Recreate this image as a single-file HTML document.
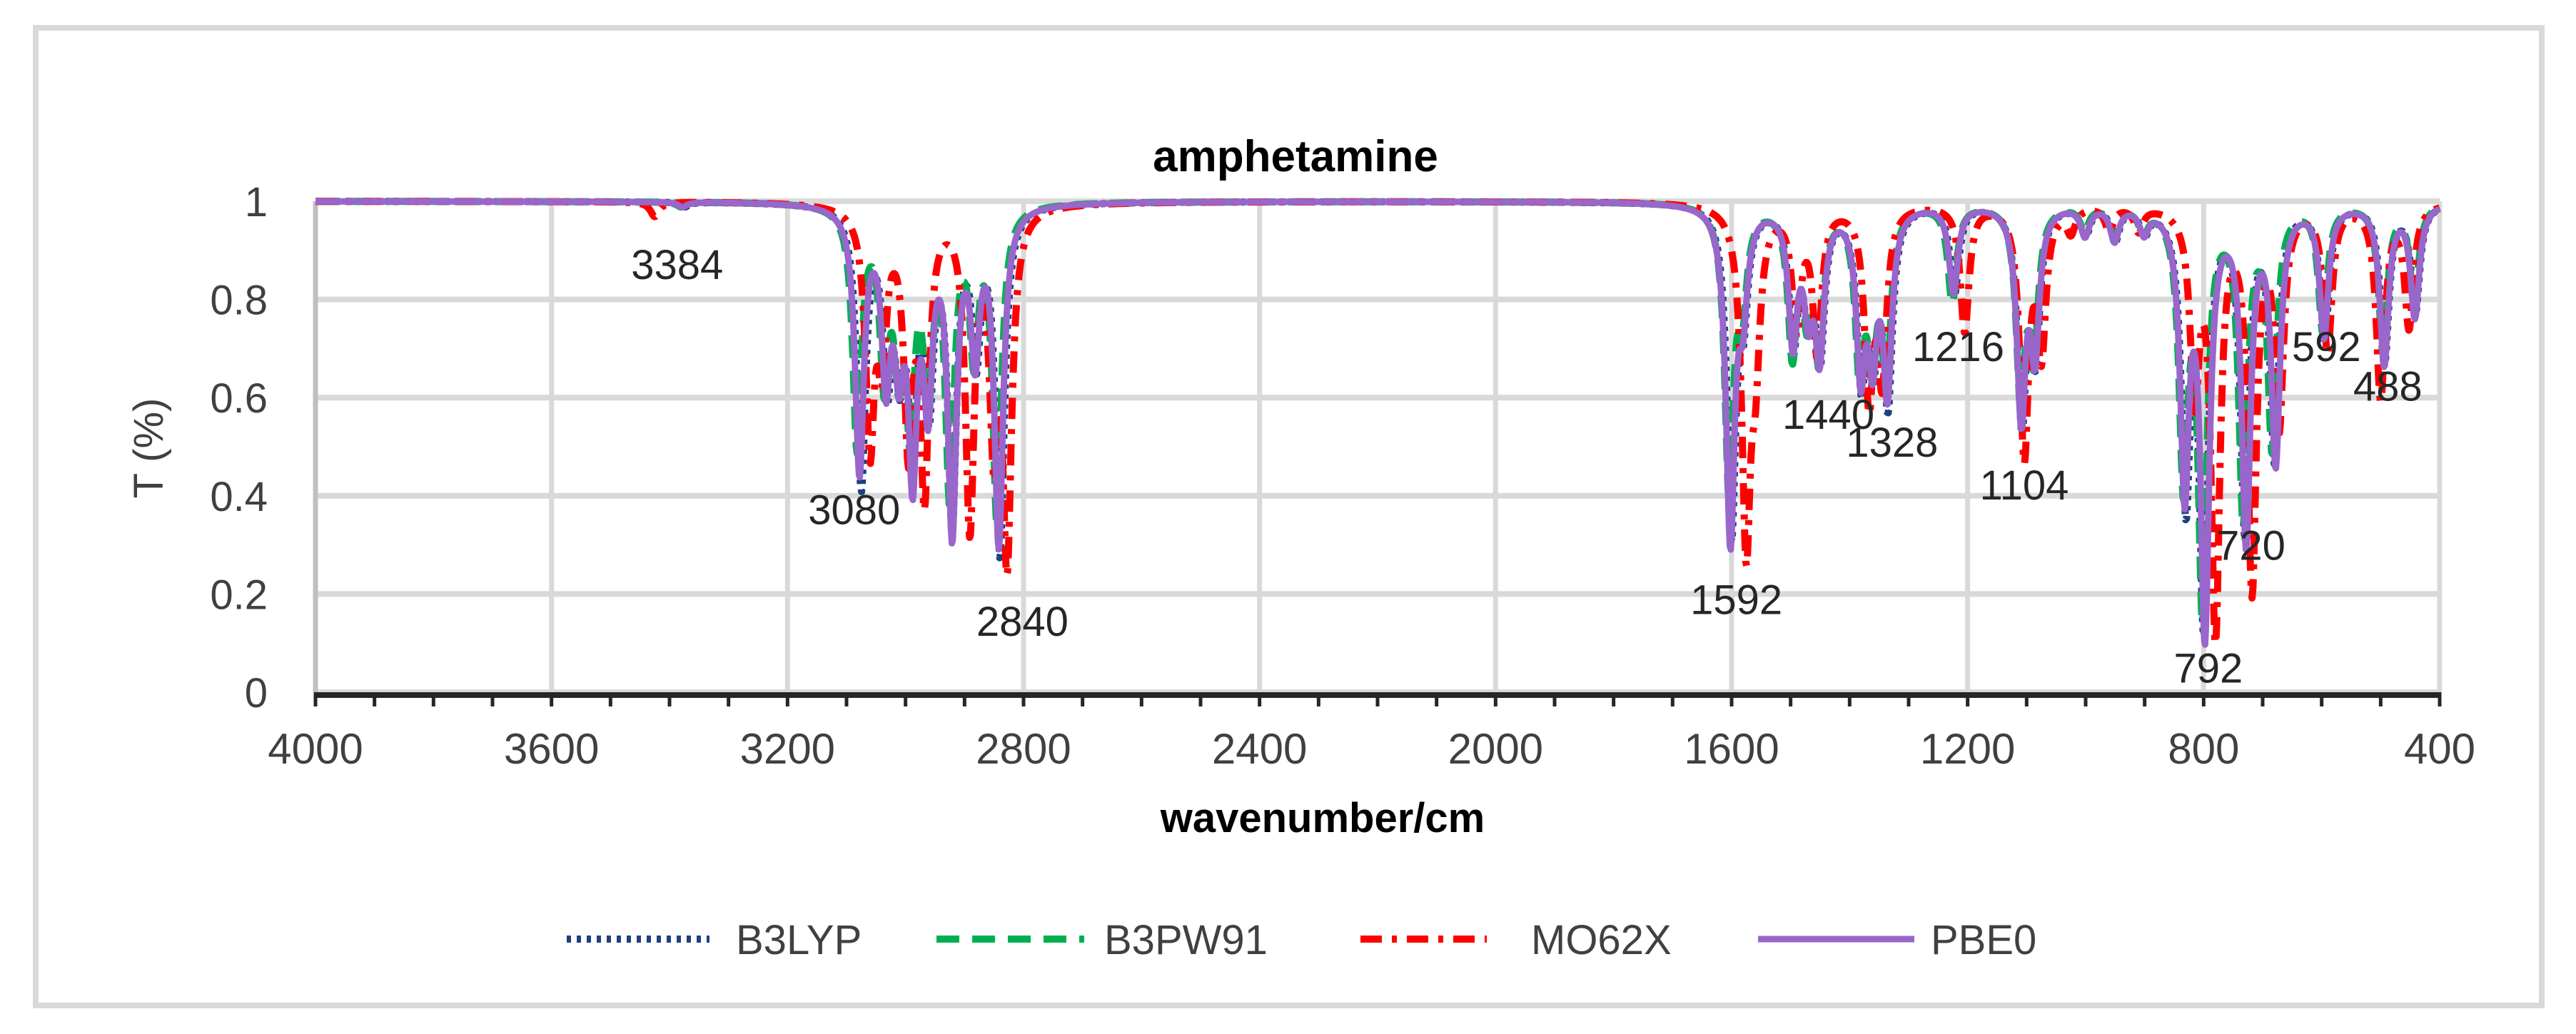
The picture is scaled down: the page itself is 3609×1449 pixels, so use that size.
<!DOCTYPE html>
<html><head><meta charset="utf-8"><style>
html,body{margin:0;padding:0;background:#fff;}
svg{display:block;font-family:"Liberation Sans",sans-serif;}
</style></head><body>
<svg id="chart" width="3609" height="1449" viewBox="0 0 3609 1449" xmlns="http://www.w3.org/2000/svg">
<rect x="50" y="39" width="3511" height="1370" fill="#fff" stroke="#d9d9d9" stroke-width="8"/>
<text x="1815" y="240" font-size="62" font-weight="bold" text-anchor="middle" fill="#000">amphetamine</text>
<g id="grid"></g>
<g id="series"></g>
<g id="axes"></g>
<g id="labels"></g>
<text transform="translate(228,628) rotate(-90)" font-size="58" text-anchor="middle" fill="#404040">T (%)</text>
<text x="1853" y="1166" font-size="58" font-weight="bold" text-anchor="middle" fill="#000">wavenumber/cm</text>
<g id="legend"></g>
</svg>
<script>
const xTicks = [4000,3600,3200,2800,2400,2000,1600,1200,800,400];
const yTicks = [0,0.2,0.4,0.6,0.8,1];
const seriesNames = ["B3LYP","B3PW91","MO62X","PBE0"];
const peaksB3LYP = [[3375,0.01],[3075,0.58],[3031,0.35],[3010,0.3],[2988,0.5],[2960,0.4],[2921,0.66],[2880,0.3],[2840,0.72],[1600,0.68],[1580,0.2],[1495,0.28],[1470,0.2],[1450,0.3],[1380,0.35],[1360,0.3],[1335,0.4],[1222,0.18],[1108,0.45],[1085,0.3],[1000,0.06],[950,0.07],[900,0.05],[830,0.62],[800,0.88],[730,0.68],[680,0.52],[595,0.28],[493,0.32],[441,0.22]];
const peaksB3PW91 = [[3380,0.01],[3082,0.5],[3036,0.35],[3012,0.3],[2992,0.45],[2962,0.4],[2925,0.6],[2884,0.3],[2845,0.65],[1604,0.6],[1582,0.2],[1497,0.3],[1472,0.2],[1452,0.3],[1383,0.33],[1362,0.3],[1338,0.36],[1226,0.2],[1110,0.4],[1088,0.3],[1002,0.05],[952,0.06],[902,0.05],[834,0.58],[802,0.85],[733,0.65],[684,0.5],[598,0.26],[496,0.3],[443,0.2]];
const peaksMO62X = [[3425,0.03],[3060,0.5],[3040,0.3],[2995,0.5],[2968,0.6],[2891,0.67],[2850,0.5],[2828,0.74],[1575,0.72],[1560,0.3],[1490,0.25],[1455,0.3],[1367,0.4],[1345,0.35],[1205,0.26],[1104,0.52],[1075,0.3],[1025,0.05],[960,0.05],[910,0.05],[815,0.4],[780,0.9],[718,0.8],[672,0.45],[590,0.3],[500,0.4],[452,0.25]];
const peaksPBE0 = [[3378,0.01],[3078,0.55],[3033,0.35],[3011,0.3],[2988,0.56],[2962,0.4],[2921,0.68],[2882,0.3],[2842,0.7],[1602,0.7],[1581,0.2],[1496,0.28],[1470,0.2],[1451,0.3],[1381,0.34],[1361,0.3],[1336,0.38],[1224,0.18],[1109,0.44],[1086,0.3],[1001,0.06],[951,0.07],[901,0.05],[832,0.6],[798,0.9],[728,0.7],[678,0.53],[596,0.27],[494,0.33],[442,0.23]];
const labelTexts = ["3384","3080","2840","1592","1440","1328","1216","1104","792","720","592","488"];
const labelX = [3387,3087,2802,1592,1436,1328,1216,1104,792,720,592,488];
const labelY = [0.872,0.373,0.145,0.19,0.567,0.51,0.705,0.423,0.05,0.30,0.705,0.624];

const NS="http://www.w3.org/2000/svg";
const X0=442,X1=3418,Y0=970,Y1=282;
function sx(w){return X0+(4000-w)*(X1-X0)/3600;}
function sy(t){return Y0-t*(Y0-Y1);}
function mk(tag,parent){const e=document.createElementNS(NS,tag);parent.appendChild(e);return e;}
const grid=document.getElementById('grid'),axes=document.getElementById('axes');
yTicks.forEach(t=>{
  const l=mk('line',grid);
  
  
  l.setAttribute('x1',X0);l.setAttribute('x2',X1);l.setAttribute('y1',sy(t));l.setAttribute('y2',sy(t));
  l.setAttribute('stroke','#d9d9d9');l.setAttribute('stroke-width','8');
  const tx=mk('text',axes);
  
  
  tx.setAttribute('x',375);tx.setAttribute('y',sy(t)+21);tx.setAttribute('font-size','58');
  tx.setAttribute('text-anchor','end');tx.setAttribute('fill','#404040');tx.textContent=String(t);
});
xTicks.forEach(w=>{
  const l=mk('line',grid);
  
  
  l.setAttribute('x1',sx(w));l.setAttribute('x2',sx(w));l.setAttribute('y1',Y1);l.setAttribute('y2',Y0);
  l.setAttribute('stroke',w===4000?'#bfbfbf':'#d9d9d9');l.setAttribute('stroke-width','7');
  const tx=mk('text',axes);
  
  
  tx.setAttribute('x',sx(w));tx.setAttribute('y',1070);tx.setAttribute('font-size','60');
  tx.setAttribute('text-anchor','middle');tx.setAttribute('fill','#404040');tx.textContent=String(w);
});
const ax=mk('line',axes);


ax.setAttribute('x1',X0);ax.setAttribute('x2',X1);ax.setAttribute('y1',Y0+4);ax.setAttribute('y2',Y0+4);
ax.setAttribute('stroke','#262626');ax.setAttribute('stroke-width','8');
for(let w=4000;w>=400;w-=100){
  const t=mk('line',axes);
  
  
  t.setAttribute('x1',sx(w));t.setAttribute('x2',sx(w));t.setAttribute('y1',Y0);t.setAttribute('y2',Y0+20);
  t.setAttribute('stroke','#262626');t.setAttribute('stroke-width','5');
}
const styles={
  B3LYP:{c:'#203f80',d:'6 8',w:10},
  B3PW91:{c:'#00b050',d:'32 18',w:10},
  MO62X:{c:'#ff0000',d:'30 14 7 14',w:10},
  PBE0:{c:'#9966cc',d:'',w:9}
};
const peakSets={B3LYP:peaksB3LYP,B3PW91:peaksB3PW91,MO62X:peaksMO62X,PBE0:peaksPBE0};
const G=9;
function T(w,peaks){let t=1;peaks.forEach(p=>{const dx=w-p[0];t*=1-p[1]*G*G/(dx*dx+G*G);});return t;}
const sg=document.getElementById('series');
seriesNames.forEach(n=>{
  const pk=peakSets[n];let d='';
  for(let w=4000;w>=400;w-=1.5){d+=(d?'L':'M')+sx(w).toFixed(1)+','+sy(T(w,pk)).toFixed(1);}
  const p=mk('path',sg);
  
  
  p.setAttribute('d',d);p.setAttribute('fill','none');p.setAttribute('stroke',styles[n].c);
  p.setAttribute('stroke-width',styles[n].w);if(styles[n].d)p.setAttribute('stroke-dasharray',styles[n].d);
  p.setAttribute('stroke-linejoin','round');
});
const lg=document.getElementById('labels');
labelTexts.forEach((s,i)=>{
  const t=mk('text',lg);
  
  
  t.setAttribute('x',sx(labelX[i]));t.setAttribute('y',sy(labelY[i])+21);
  t.setAttribute('font-size','58');t.setAttribute('text-anchor','middle');t.setAttribute('fill','#262626');
  t.textContent=s;
});
const leg=document.getElementById('legend');
const legX=[[794,994,1031],[1312,1519,1547],[1906,2083,2145],[2463,2682,2705]];
seriesNames.forEach((n,i)=>{
  const l=mk('line',leg);
  
  
  l.setAttribute('x1',legX[i][0]);l.setAttribute('x2',legX[i][1]);l.setAttribute('y1',1316);l.setAttribute('y2',1316);
  l.setAttribute('stroke',styles[n].c);l.setAttribute('stroke-width',styles[n].w);
  if(styles[n].d)l.setAttribute('stroke-dasharray',styles[n].d);
  const t=mk('text',leg);
  
  
  t.setAttribute('x',legX[i][2]);t.setAttribute('y',1337);t.setAttribute('font-size','58');t.setAttribute('fill','#404040');
  t.textContent=n;
});
</script>
</body></html>
